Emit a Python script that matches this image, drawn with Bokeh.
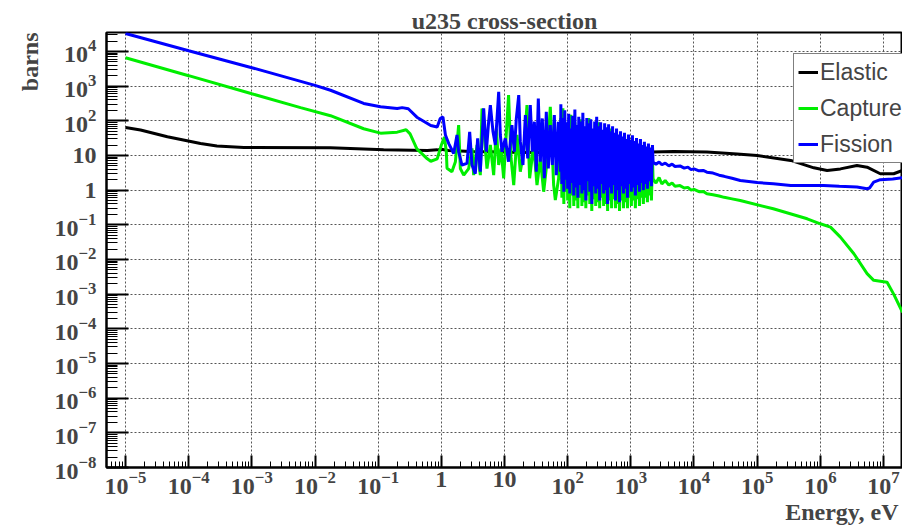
from bokeh.plotting import figure
from bokeh.models import Range1d, FixedTicker, LogTickFormatter, Title, Legend, LegendItem
from bokeh.embed import file_html
from bokeh.resources import INLINE

# ---------------- data (energy in eV, cross-section in barns) ----------------
# Elastic
elastic_e = [1e-5, 1.73e-5, 4.6e-5, 1.54e-4, 2.8e-4, 7.5e-4, 0.0175, 0.122, 0.6, 0.86, 1.0, 1.3,
             3.0, 10, 100, 1000, 2180, 4790, 1.6e4, 4.8e4, 1e5, 3.4e5, 7.9e5, 1.28e6, 2.08e6,
             3.8e6, 5.5e6, 8.9e6, 1.45e7, 2e7]
elastic_xs = [64, 54, 34.5, 22, 18.7, 17, 16.6, 14.6, 14.0, 14.5, 15, 14,
              13, 12.5, 12, 12, 12.5, 13, 12.5, 11.1, 10, 7.2, 4.4, 3.7, 4.1,
              5.15, 4.6, 2.97, 2.97, 3.7]

# Fission: thermal + low resonances
fission_lo_e = [1e-5, 1e-4, 1e-3, 1e-2, 0.0176, 0.059, 0.109, 0.2, 0.24, 0.3, 0.41, 0.68, 0.86,
                0.96, 1.06, 1.16, 1.31, 1.57, 1.77, 1.88, 2.12, 2.55, 2.81, 3.06, 3.45, 3.76,
                4.14, 4.68, 5.16, 5.61, 5.97, 6.58, 7.16, 8.09, 8.59, 9.13, 10.3, 11.6, 13.1,
                14.3, 15.4, 16.8, 17.8, 19.6, 21.4, 23.3, 25.6, 27.6, 29.7, 31.9, 34.3, 36.9,
                39.7, 42.7, 45.9, 49.4, 53.1, 57.2, 61.5, 66.1, 71.1, 76.5]
fission_lo_xs = [3.3e4, 1.05e4, 3.4e3, 1.05e3, 760, 316, 253, 227, 240, 222, 127, 73, 66,
                 117, 130, 39, 22, 11.4, 39, 12.8, 5.3, 5.9, 48, 5.3, 3.0, 31,
                 3.4, 227, 12.8, 94, 283, 48, 20, 686, 39, 12.8, 31, 6.6, 75,
                 12.8, 117, 550, 25, 5.3, 146, 8.2, 283, 12.8, 94, 3.4, 441, 6.6,
                 117, 2.2, 182, 4.2, 75, 5.3, 146, 2.7, 94, 3.4]

# Capture: thermal + low resonances
capture_lo_e = [1e-5, 1e-4, 1e-3, 5.9e-3, 0.0176, 0.059, 0.109, 0.2, 0.277, 0.32, 0.41, 0.6,
                0.68, 0.86, 1.0, 1.12, 1.2, 1.23, 1.47, 1.67, 1.88, 2.0, 2.26, 2.71, 3.06,
                3.25, 3.67, 4.14, 4.40, 5.28, 5.97, 6.74, 7.43, 8.09, 8.81, 9.70, 11.6, 12.7,
                14.0, 15.8, 17.8, 20.1, 22.7, 25.0, 28.9, 32.7, 36.9, 41.7, 47.1, 53.1, 60.0,
                63.8, 72]
capture_lo_xs = [6600, 2000, 600, 240, 140, 59, 44, 47, 55, 42, 15.5, 8,
                 6.8, 8, 20, 34, 12.5, 4.3, 3.4, 6.6, 75, 4.2, 2.7, 4.2, 16,
                 2.7, 20, 2.7, 227, 4.2, 20, 2.7, 60, 5.3, 16, 2.2, 550, 8.2,
                 1.4, 39, 3.4, 12.8, 283, 2.2, 20, 1.4, 8.2, 0.9, 6.6, 253, 1.4,
                 0.52, 2.2]

# Resolved resonance region (dense part), shared energy grid
res_e = [78, 81, 84, 87, 90, 93, 97, 100, 104, 108, 112, 116, 120, 125, 130, 135, 140, 145,
         150, 156, 162, 168, 174, 180, 187, 194, 201, 208, 216, 224, 232, 241, 250, 259, 268,
         278, 288, 299, 310, 321, 333, 345, 358, 371, 385, 399, 414, 429, 445, 461, 478, 496,
         514, 533, 553, 573, 594, 616, 639, 662, 687, 712, 738, 765, 794, 823, 853, 885, 918,
         951, 986, 1020, 1060, 1100, 1140, 1180, 1230, 1270, 1320, 1370, 1420, 1470, 1530,
         1580, 1640, 1700, 1770, 1830, 1900, 1970, 2040, 2120, 2200, 2250]
fission_res_xs = [300, 1.5, 120, 0.9, 200, 2.0, 90, 1.1, 160, 0.8, 60, 1.6, 140, 0.7, 210, 1.2,
                  75, 0.6, 130, 1.4, 95, 0.8, 170, 1.0, 70, 0.5, 120, 1.8, 85, 0.9, 110, 0.4,
                  60, 1.3, 95, 0.8, 130, 1.1, 70, 0.5, 90, 1.5, 55, 0.8, 85, 1.0, 65, 0.4,
                  80, 1.2, 50, 0.8, 70, 1.4, 45, 0.5, 60, 1.0, 40, 0.45, 50, 1.3, 35, 0.8,
                  45, 1.1, 30, 0.6, 40, 1.5, 28, 0.9, 38, 1.2, 26, 0.7, 32, 1.4, 22, 0.9,
                  30, 1.6, 20, 1.0, 25, 1.5, 18, 1.1, 22, 1.8, 17, 1.3, 20, 6.4]
capture_res_xs = [120, 0.6, 230, 0.4, 80, 0.9, 60, 0.5, 70, 0.3, 150, 0.7, 50, 0.35, 90, 0.5,
                  40, 0.3, 60, 0.6, 110, 0.35, 70, 0.45, 35, 0.3, 55, 0.7, 120, 0.4, 45, 0.25,
                  30, 0.55, 45, 0.35, 60, 0.45, 90, 0.3, 40, 0.6, 25, 0.35, 40, 0.4, 30, 0.25,
                  35, 0.5, 60, 0.3, 30, 0.55, 20, 0.3, 28, 0.4, 18, 0.25, 22, 0.5, 15, 0.3,
                  20, 0.45, 13, 0.3, 17, 0.6, 12, 0.35, 16, 0.5, 11, 0.3, 14, 0.55, 9, 0.35,
                  12, 0.6, 8, 0.4, 10, 0.6, 7, 0.45, 9, 0.7, 7, 0.5, 8, 2.1]

# Unresolved + fast region
fission_hi_e = [2500, 2800, 3100, 3500, 4000, 4500, 5000, 6000, 7000, 8000, 9000, 1.0e4, 1.2e4,
                1.4e4, 1.6e4, 2.0e4, 2.5e4, 3e4, 4e4, 5.4e4, 1.0e5, 1.8e5, 3.4e5, 1.13e6,
                2.0e6, 3.8e6, 5.5e6, 6.0e6, 7e6, 8.9e6, 1.4e7, 2e7]
fission_hi_xs = [5.6, 6.5, 5.4, 6.0, 5.0, 5.6, 4.8, 5.0, 4.3, 4.6, 3.9, 4.1, 3.6,
                 3.7, 3.3, 3.1, 2.7, 2.5, 2.2, 1.9, 1.65, 1.53, 1.37, 1.37,
                 1.3, 1.23, 1.1, 1.15, 1.7, 2.0, 2.1, 2.27]
capture_hi_e = [2500, 2800, 3100, 3500, 4000, 4500, 5000, 6000, 7000, 8000, 9000, 1.0e4, 1.2e4,
                1.4e4, 1.6e4, 2.0e4, 2.5e4, 3e4, 4e4, 5.4e4, 1.8e5, 6.2e5, 1e6, 1.45e6,
                2.08e6, 3.4e6, 5.5e6, 7e6, 1.14e7, 1.45e7, 2e7]
capture_hi_xs = [1.6, 2.3, 1.5, 1.9, 1.4, 1.6, 1.3, 1.35, 1.15, 1.2, 1.0, 1.05, 0.9,
                 0.92, 0.79, 0.74, 0.68, 0.62, 0.56, 0.5, 0.29, 0.149, 0.107, 0.0855,
                 0.044, 0.0146, 3.9e-3, 2.5e-3, 2.2e-3, 1.0e-3, 3.0e-4]

series_names = ["Elastic", "Capture", "Fission"]
series_colors = ["black", "#00ee00", "#0000ff"]

x_decades = list(range(-5, 8))
y_decades = list(range(-8, 5))

fission_e = fission_lo_e + res_e + fission_hi_e
fission_xs = fission_lo_xs + fission_res_xs + fission_hi_xs
capture_e = capture_lo_e + res_e + capture_hi_e
capture_xs = capture_lo_xs + capture_res_xs + capture_hi_xs

# ---------------- figure ----------------
SERIF = "Liberation Serif"
p = figure(width=902, height=532, x_axis_type="log", y_axis_type="log",
           x_range=Range1d(5e-6, 2e7), y_range=Range1d(1e-8, 3.52e4),
           output_backend="svg", toolbar_location=None,
           min_border_left=106, min_border_right=0, min_border_top=32, min_border_bottom=65)

p.title.text = "u235 cross-section"
p.title.align = "center"
p.title.text_font = SERIF
p.title.text_font_size = "24px"
p.title.text_font_style = "bold"
p.title.standoff = -3

p.add_layout(Title(text="barns", align="right", text_font=SERIF, text_font_size="24px",
                   text_font_style="bold", standoff=17), "left")
p.add_layout(Title(text="Energy, eV", align="right", text_font=SERIF, text_font_size="24px",
                   text_font_style="bold", standoff=0, offset=4), "below")


def log_ticks(decades):
    major = [10.0 ** k for k in decades]
    minor = [m * 10.0 ** k for k in [decades[0] - 1] + decades for m in range(2, 10)]
    return FixedTicker(ticks=major, minor_ticks=minor)


for ax, decs, tin, mtin, stand in ((p.xaxis[0], x_decades, 12, 6, 4),
                                   (p.yaxis[0], y_decades, 22, 11, 10)):
    ax.ticker = log_ticks(decs)
    ax.formatter = LogTickFormatter()
    ax.major_label_overrides = {1: "1", 10: "10"}
    ax.major_label_text_font = SERIF
    ax.major_label_text_font_size = "24px"
    ax.major_label_text_font_style = "bold"
    ax.major_tick_in = tin
    ax.major_tick_out = 0
    ax.minor_tick_in = mtin
    ax.minor_tick_out = 0
    ax.axis_line_width = 2
    ax.major_tick_line_width = 2
    ax.minor_tick_line_width = 1
    ax.major_label_standoff = stand

for g in (p.xgrid[0], p.ygrid[0]):
    g.grid_line_color = "#555555"
    g.grid_line_dash = "2 2"
    g.grid_line_width = 1

p.outline_line_color = "black"
p.outline_line_width = 2

lw = 3
r_el = p.line(elastic_e, elastic_xs, color=series_colors[0], line_width=lw)
r_ca = p.line(capture_e, capture_xs, color=series_colors[1], line_width=lw)
r_fi = p.line(fission_e, fission_xs, color=series_colors[2], line_width=lw)

# markers only for legend glyphs
m_el = p.scatter([], [], marker="square", size=6, color=series_colors[0])
m_ca = p.scatter([], [], marker="square", size=6, color=series_colors[1])
m_fi = p.scatter([], [], marker="square", size=6, color=series_colors[2])

legend = Legend(items=[LegendItem(label=series_names[0], renderers=[r_el, m_el]),
                       LegendItem(label=series_names[1], renderers=[r_ca, m_ca]),
                       LegendItem(label=series_names[2], renderers=[r_fi, m_fi])],
                location=(687, 304), label_text_font="Liberation Sans",
                label_text_font_size="23px", glyph_width=20, glyph_height=24,
                label_height=28, spacing=8, padding=4, margin=0, label_standoff=2,
                border_line_color="black", border_line_width=1.5,
                background_fill_color="white", background_fill_alpha=1)
p.add_layout(legend)

open("out.html", "w").write(file_html(p, INLINE))
